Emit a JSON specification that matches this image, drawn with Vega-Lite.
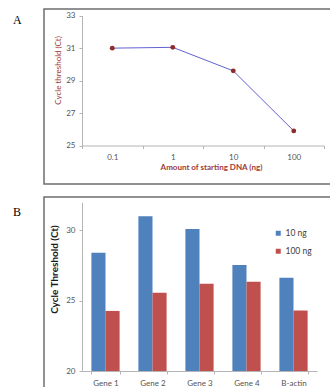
{
  "$schema": "https://vega.github.io/schema/vega-lite/v6.json",
  "padding": {"left": 12, "top": 8, "right": 0, "bottom": 0},
  "background": "white",
  "spacing": 11,
  "resolve": {"legend": {"color": "independent"}, "scale": {"color": "independent"}},
  "datasets": {
    "dna": [
      {"dna": "0.1", "ct": 31.0},
      {"dna": "1", "ct": 31.05},
      {"dna": "10", "ct": 29.6},
      {"dna": "100", "ct": 25.9}
    ],
    "genes": [
      {"gene": "Gene 1", "series": "10 ng", "ct": 28.4},
      {"gene": "Gene 1", "series": "100 ng", "ct": 24.27},
      {"gene": "Gene 2", "series": "10 ng", "ct": 31.0},
      {"gene": "Gene 2", "series": "100 ng", "ct": 25.57},
      {"gene": "Gene 3", "series": "10 ng", "ct": 30.1},
      {"gene": "Gene 3", "series": "100 ng", "ct": 26.2},
      {"gene": "Gene 4", "series": "10 ng", "ct": 27.53},
      {"gene": "Gene 4", "series": "100 ng", "ct": 26.35},
      {"gene": "B-actin", "series": "10 ng", "ct": 26.63},
      {"gene": "B-actin", "series": "100 ng", "ct": 24.3}
    ]
  },
  "vconcat": [
    {
      "width": 300,
      "height": 175,
      "title": {"text": "A", "anchor": "start", "frame": "group", "dx": -31, "offset": -18, "font": "Liberation Serif", "fontSize": 12, "fontWeight": "normal", "color": "#000000"},
      "data": {"name": "dna"},
      "encoding": {
        "x": {
          "field": "dna", "type": "ordinal", "sort": ["0.1", "1", "10", "100"],
          "scale": {"type": "band", "range": [38, 280], "paddingInner": 0, "paddingOuter": 0},
          "axis": {
            "offset": -38.5, "tickBand": "extent", "labelAngle": 0,
            "title": "Amount of starting DNA (ng)", "titleColor": "#9b3b39", "titleFont": "Lato", "titleFontSize": 8, "titleFontWeight": "bold",
            "titleX": 167, "titleY": 21.5, "titleBaseline": "middle", "titleAlign": "center"
          }
        },
        "y": {
          "field": "ct", "type": "quantitative",
          "scale": {"domain": [25, 33], "range": [136.5, 6.7], "nice": false, "zero": false},
          "axis": {
            "offset": -38, "values": [25, 27, 29, 31, 33],
            "title": "Cycle threshold (Ct)", "titleColor": "#9b3b39", "titleFont": "Lato", "titleFontSize": 8, "titleFontWeight": "normal",
            "titleX": -23.5, "titleY": 61, "titleBaseline": "middle", "titleAlign": "center"
          }
        }
      },
      "layer": [
        {"mark": {"type": "line", "color": "#6262d4", "strokeWidth": 1}},
        {"mark": {"type": "point", "filled": true, "color": "#8e2c2c", "size": 24, "opacity": 1}}
      ]
    },
    {
      "width": 300,
      "height": 200,
      "title": {"text": "B", "anchor": "start", "frame": "group", "dx": -31, "offset": -22, "font": "Liberation Serif", "fontSize": 12, "fontWeight": "normal", "color": "#000000"},
      "data": {"name": "genes"},
      "mark": {"type": "bar"},
      "encoding": {
        "x": {
          "field": "gene", "type": "nominal", "sort": ["Gene 1", "Gene 2", "Gene 3", "Gene 4", "B-actin"],
          "scale": {"type": "band", "range": [38, 273], "paddingInner": 0.4, "paddingOuter": 0.2},
          "axis": {"offset": -26, "tickBand": "extent", "labelAngle": 0, "title": null}
        },
        "xOffset": {"field": "series", "type": "nominal", "sort": ["10 ng", "100 ng"]},
        "y": {
          "field": "ct", "type": "quantitative",
          "scale": {"domain": [20, 32], "range": [174, 5.2], "nice": false, "zero": false},
          "axis": {
            "offset": -38, "values": [20, 25, 30],
            "title": "Cycle Threshold (Ct)", "titleColor": "#1a1a1a", "titleFont": "Lato", "titleFontSize": 10, "titleFontWeight": "bold",
            "titleX": -28, "titleY": 72, "titleBaseline": "middle", "titleAlign": "center"
          }
        },
        "y2": {"datum": 20},
        "color": {
          "field": "series", "type": "nominal", "sort": ["10 ng", "100 ng"],
          "scale": {"range": ["#4f81bd", "#c0504d"]},
          "legend": {
            "orient": "none", "legendX": 230, "legendY": 32, "title": null,
            "symbolType": "square", "symbolSize": 25, "symbolStrokeWidth": 0, "symbolOpacity": 1,
            "labelFont": "Lato", "labelFontSize": 8.5, "labelColor": "#404040", "labelOffset": 3, "rowPadding": 9
          }
        }
      }
    }
  ],
  "config": {
    "view": {"stroke": "#6e6e6e", "strokeWidth": 1.5},
    "axis": {
      "grid": false, "domainColor": "#b5b5b5", "tickColor": "#b5b5b5", "tickSize": 3,
      "labelFont": "Lato", "labelFontSize": 8, "labelColor": "#555555", "labelPadding": 4
    },
    "axisX": {"labelPadding": 5},
    "axisY": {"labelPadding": 4}
  }
}
